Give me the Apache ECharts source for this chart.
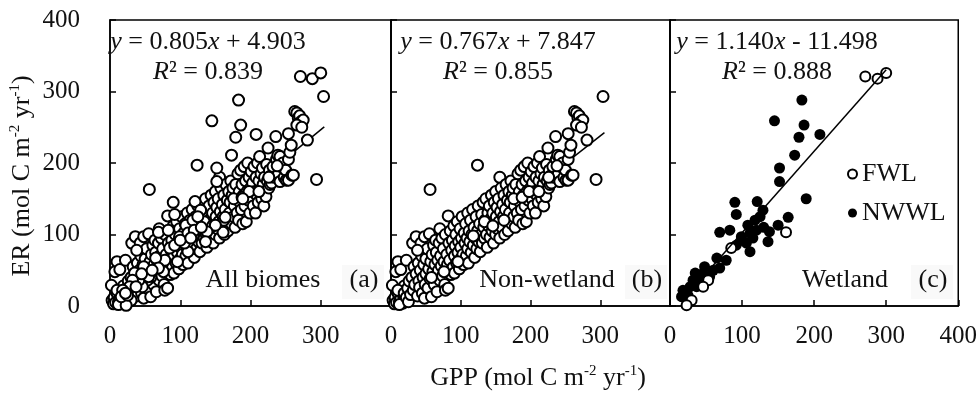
<!DOCTYPE html>
<html>
<head>
<meta charset="utf-8">
<script src="https://cdn.jsdelivr.net/npm/echarts@6/dist/echarts.min.js"></script>
<style>
  html, body { margin: 0; padding: 0; background: #fff; }
  #chart { width: 980px; height: 394px; }
</style>
</head>
<body>
<div id="chart"></div>
<script>
// non-wetland sites [GPP, ER]
const nonWetland = [
  [3,8],[5,3],[6,12],[8,5],[10,18],[12,6],[14,10],[15,22],[17,4],[18,14],[19,28],[20,9],[7,48],[10,62],[14,51],[22,64],[2,29],[10,22],[19,18],[12,2],[22,12],[24,25],[25,6],
  [26,35],[28,16],[30,40],[31,88],[32,22],[33,55],[34,30],[36,97],[36,45],[38,14],[39,60],[40,35],[41,26],[42,50],[43,88],[44,70],[45,18],[46,40],[47,58],[48,97],[48,11],[49,30],[50,66],[50,45],
  [52,80],[53,25],[54,52],[55,101],[56,163],[56,38],[57,62],[58,13],[59,72],[60,48],[61,85],[62,30],[63,58],[64,92],[65,43],[65,75],[66,20],[67,64],[68,50],[69,88],[70,108],[70,36],[71,70],[72,56],[73,95],[74,42],[75,80],[76,62],[77,30],[78,22],[78,100],[79,48],[80,72],
  [81,58],[82,126],[82,25],[83,88],[84,64],[85,105],[86,44],[87,78],[88,92],[89,54],[90,112],[91,46],[91,70],[92,84],[93,100],[94,60],[95,118],[96,75],[97,90],[98,52],[99,108],[100,66],[100,82],[101,95],[102,125],[103,72],[104,58],[105,102],[106,88],[107,115],[108,70],[109,95],[110,80],[110,130],
  [111,60],[112,105],[113,90],[114,120],[115,75],[116,100],[117,135],[118,85],[119,110],[120,68],[121,95],[122,125],[123,80],[124,197],[124,105],[125,140],[126,90],[127,115],[128,76],[129,100],[130,128],[131,88],[132,145],[133,110],[134,95],[135,120],[136,150],[137,100],[138,82],[139,130],[140,112],
  [141,140],[142,96],[143,122],[144,155],[145,105],[146,130],[147,88],[148,145],[149,115],[150,100],[150,160],[151,125],[152,138],[153,108],[154,150],[155,118],[156,180],[156,95],[157,132],[158,165],[159,110],[160,142],[161,125],[162,155],[163,100],[164,135],[165,170],[166,118],[167,148],[168,105],[169,160],[170,130],
  [171,145],[172,175],[173,115],[174,155],[175,165],[176,125],[177,140],[178,110],[179,170],[180,150],[181,130],[182,185],[183,120],[184,160],[185,145],[186,190],[187,135],[188,170],[189,115],[190,155],[191,195],[192,140],[193,175],[194,118],[195,160],[196,200],[197,148],[198,180],[199,130],[200,165],
  [201,188],[202,150],[203,172],[204,140],[205,195],[206,160],[207,130],[208,180],[209,155],[210,200],[211,145],[212,175],[213,209],[214,162],[215,185],[216,150],[217,193],[218,170],[219,140],[220,180],[221,160],[222,153],[223,198],[224,175],[225,221],[226,165],[227,190],[228,170],[229,182],[230,172],
  [232,195],[234,180],[236,237],[237,205],[239,211],[240,185],[242,209],[242,174],[244,195],[246,200],[248,180],[250,190],[251,176],[254,241],[254,205],[254,176],[256,215],[258,225],[259,183],[261,183],
  [263,272],[266,270],[268,263],[270,266],[272,258],[275,260],[266,253],[273,250],[281,232],[294,177],[304,293],
  [38,78],[58,40],[76,48],[96,62],[118,98],[134,118],[146,112],[162,120],[176,150],[188,152],[198,160],[212,160],[226,180],[238,196]
];
// wetland sites
const fwl = [[271,321],[288,318],[300,326],[161,103],[85,81],[53,36],[30,8],[23,1],[46,27]];
const nwwl = [
  [183,288],[145,259],[186,253],[179,236],[208,240],[173,211],[152,193],[152,174],[90,145],[121,146],[189,150],
  [92,128],[129,134],[164,124],[150,113],[138,104],[108,113],[118,120],[125,125],[69,103],[83,106],[99,97],[111,102],
  [120,106],[136,90],[111,76],[92,85],[106,88],[78,64],[65,67],[48,55],[69,53],[35,46],[41,36],[32,36],[28,27],[18,22],
  [16,13],[25,15],[37,27],[55,41],[45,45],[22,18],[60,50],[100,92],[115,95],[130,110]
];
const allBiomes = nonWetland.concat(fwl, nwwl);

// regression fits per panel
const slopes = [0.805, 0.767, 1.140];
const intercepts = [4.903, 7.847, -11.498];
const r2s = ['0.839', '0.855', '0.888'];
const fitFrom = [3, 3, 15];
const fitTo = [305, 306, 300];
const panelNames = ['All biomes', 'Non-wetland', 'Wetland'];
const panelTags = ['(a)', '(b)', '(c)'];

const FONT = '"Liberation Serif", "Times New Roman", serif';
const FS = 26;
const grids = [
  { left: 110, top: 20, width: 281, height: 286 },
  { left: 391, top: 20, width: 279, height: 286 },
  { left: 670, top: 20, width: 290, height: 286 }
];

const fitLine = i => [
  [fitFrom[i], slopes[i] * fitFrom[i] + intercepts[i]],
  [fitTo[i], slopes[i] * fitTo[i] + intercepts[i]]
];

const xAxes = grids.map((g, i) => ({
  type: 'value', gridIndex: i, min: 0, max: 400, interval: 100,
  axisLine: { lineStyle: { color: '#000', width: 1.5 } },
  axisTick: { inside: true, length: 6, lineStyle: { color: '#000', width: 1.5 } },
  axisLabel: {
    showMaxLabel: i === 2, margin: 18,
    color: '#111', fontFamily: FONT, fontSize: 25
  },
  splitLine: { show: false }
}));
const yAxes = grids.map((g, i) => ({
  type: 'value', gridIndex: i, min: 0, max: 400, interval: 100,
  axisLine: { lineStyle: { color: '#000', width: 1.5 } },
  axisTick: { inside: true, length: 6, lineStyle: { color: '#000', width: 1.5 } },
  axisLabel: { show: i === 0, margin: 30, color: '#111', fontFamily: FONT, fontSize: 25 },
  splitLine: { show: false }
}));

const openDot = { color: '#fff', borderColor: '#000', borderWidth: 2, opacity: 1 };
const lineSeries = (i, z) => ({
  type: 'line', xAxisIndex: i, yAxisIndex: i, data: fitLine(i), symbol: 'none', z: z,
  lineStyle: { color: '#000', width: 1.5 }, silent: true
});

const series = [
  lineSeries(0, 1),
  { name: 'All', type: 'scatter', xAxisIndex: 0, yAxisIndex: 0, data: allBiomes, symbolSize: 11, itemStyle: openDot, z: 2 },
  lineSeries(1, 1),
  { name: 'Non-wetland', type: 'scatter', xAxisIndex: 1, yAxisIndex: 1, data: nonWetland, symbolSize: 11, itemStyle: openDot, z: 2 },
  { name: 'NWWL', type: 'scatter', xAxisIndex: 2, yAxisIndex: 2, data: nwwl, symbolSize: 11, itemStyle: { color: '#000', opacity: 1 }, z: 2 },
  { name: 'FWL', type: 'scatter', xAxisIndex: 2, yAxisIndex: 2, data: fwl, symbolSize: 10, itemStyle: openDot, z: 3 },
  lineSeries(2, 4)
];

const txt = (x, y, text, extra) => ({
  type: 'text', x: x, y: y, z: 100,
  style: Object.assign({
    text: text, fill: '#111', font: FS + 'px ' + FONT,
    textAlign: 'center', textVerticalAlign: 'middle',
    rich: {
      i: { fontStyle: 'italic', fontFamily: FONT, fontSize: FS, fill: '#111' },
      n: { fontFamily: FONT, fontSize: FS, fill: '#111', lineHeight: 28 },
      s: { fontFamily: FONT, fontSize: 15, fill: '#111', verticalAlign: 'top', lineHeight: 28 }
    }
  }, extra || {})
});

const eqX = [208, 498, 777];
const nameX = [263, 547, 845];
const tagX = [364, 647, 933];
const graphics = [];
for (let i = 0; i < 3; i++) {
  const b = intercepts[i];
  const sign = b < 0 ? ' - ' : ' + ';
  graphics.push(txt(eqX[i], 42, '{i|y} = ' + slopes[i].toFixed(3) + '{i|x}' + sign + Math.abs(b).toFixed(3)));
  graphics.push(txt(eqX[i], 72, '{i|R}² = ' + r2s[i]));
  graphics.push(txt(nameX[i], 280, panelNames[i]));
  graphics.push({ type: 'rect', z: 99, shape: { x: tagX[i] - 22, y: 265, width: 42, height: 34 }, style: { fill: '#f9f9f9' } });
  graphics.push(txt(tagX[i], 280, panelTags[i]));
}
graphics.push(txt(538, 378, '{n|GPP (mol C m}{s|-2}{n| yr}{s|-1}{n|)}'));
graphics.push(txt(22, 176, '{n|ER (mol C m}{s|-2}{n| yr}{s|-1}{n|)}', {}));
graphics[graphics.length - 1].rotation = Math.PI / 2;

const chart = echarts.init(document.getElementById('chart'));
chart.setOption({
  animation: false,
  backgroundColor: '#fff',
  grid: grids.map(g => Object.assign({ show: true, borderColor: '#000', borderWidth: 1.5, containLabel: false }, g)),
  xAxis: xAxes,
  yAxis: yAxes,
  legend: {
    data: ['FWL', 'NWWL'], orient: 'vertical', left: 842, top: 156, itemGap: 13,
    itemWidth: 9, itemHeight: 9, icon: 'circle',
    textStyle: { fontFamily: FONT, fontSize: FS, color: '#111' }
  },
  series: series,
  graphic: graphics
});
</script>
</body>
</html>
